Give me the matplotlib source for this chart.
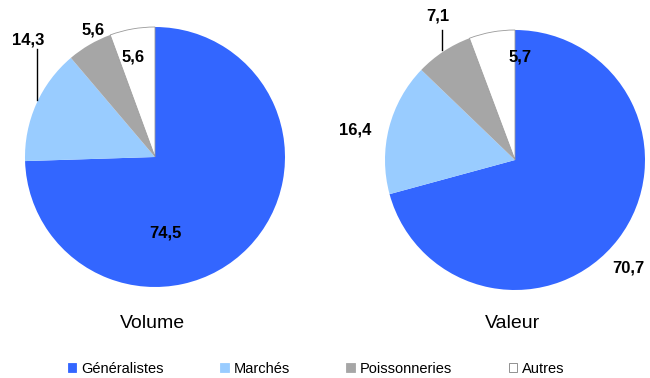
import matplotlib
matplotlib.use("Agg")
import matplotlib.pyplot as plt
from matplotlib.patches import Patch

plt.rcParams['font.family'] = ['Liberation Sans', 'DejaVu Sans']

categories = ["Généralistes", "Marchés", "Poissonneries", "Autres"]
volume = [74.5, 14.3, 5.6, 5.6]
valeur = [70.7, 16.4, 7.1, 5.7]
titles = ["Volume", "Valeur"]
colors = ["#3366FF", "#99CCFF", "#A6A6A6", "#FFFFFF"]

fig = plt.figure(figsize=(6.5, 3.78), dpi=100)

def make_ax(cx, cy, r=130):
    W, H = 650, 378
    return fig.add_axes([(cx - r) / W, 1 - (cy + r) / H, 2 * r / W, 2 * r / H])

ax1 = make_ax(155, 157)
ax2 = make_ax(515, 160)

for ax, vals in ((ax1, volume), (ax2, valeur)):
    wedges, _ = ax.pie(vals, colors=colors, startangle=90, counterclock=False,
                       radius=1.0, wedgeprops=dict(linewidth=0))
    wedges[-1].set_edgecolor("#999999")
    wedges[-1].set_linewidth(0.6)
    ax.set_xlim(-1, 1)
    ax.set_ylim(-1, 1)
    ax.set_aspect('equal')
    ax.axis('off')

lab_kw = dict(fontsize=12, fontweight='bold', ha='center', va='center', clip_on=False)

def fmt(v):
    return f"{v:.1f}".replace('.', ',')

# Volume labels
ax1.text(0.077, -0.585, fmt(volume[0]), **lab_kw)
ax1.text(-0.977, 0.90, fmt(volume[1]), **lab_kw)
ax1.plot([-0.908, -0.908], [0.83, 0.438], color='black', lw=1, clip_on=False)
ax1.text(-0.477, 0.977, fmt(volume[2]), **lab_kw)
ax1.text(-0.169, 0.769, fmt(volume[3]), **lab_kw)

# Valeur labels
ax2.text(0.869, -0.831, fmt(valeur[0]), **lab_kw)
ax2.text(-1.231, 0.231, fmt(valeur[1]), **lab_kw)
ax2.text(-0.592, 1.108, fmt(valeur[2]), **lab_kw)
ax2.plot([-0.562, -0.562], [1.0, 0.846], color='black', lw=1, clip_on=False)
ax2.text(0.038, 0.792, fmt(valeur[3]), **lab_kw)

title_kw = dict(fontsize=14, ha='center', va='center')
fig.text(152 / 650, 1 - 323 / 378, titles[0], **title_kw)
fig.text(513 / 650, 1 - 323 / 378, titles[1], **title_kw)

handles = [Patch(facecolor=c, edgecolor=('#808080' if c == '#FFFFFF' else c), linewidth=0.6)
           for c in colors]
fig.legend(handles, categories, loc='center', bbox_to_anchor=(316 / 650, 1 - 369 / 378),
           ncol=4, frameon=False, fontsize=10.5, handlelength=0.6, handleheight=0.6,
           handletextpad=0.3, columnspacing=3.9, borderpad=0)

fig.savefig("out.png", dpi=100, facecolor='white')
